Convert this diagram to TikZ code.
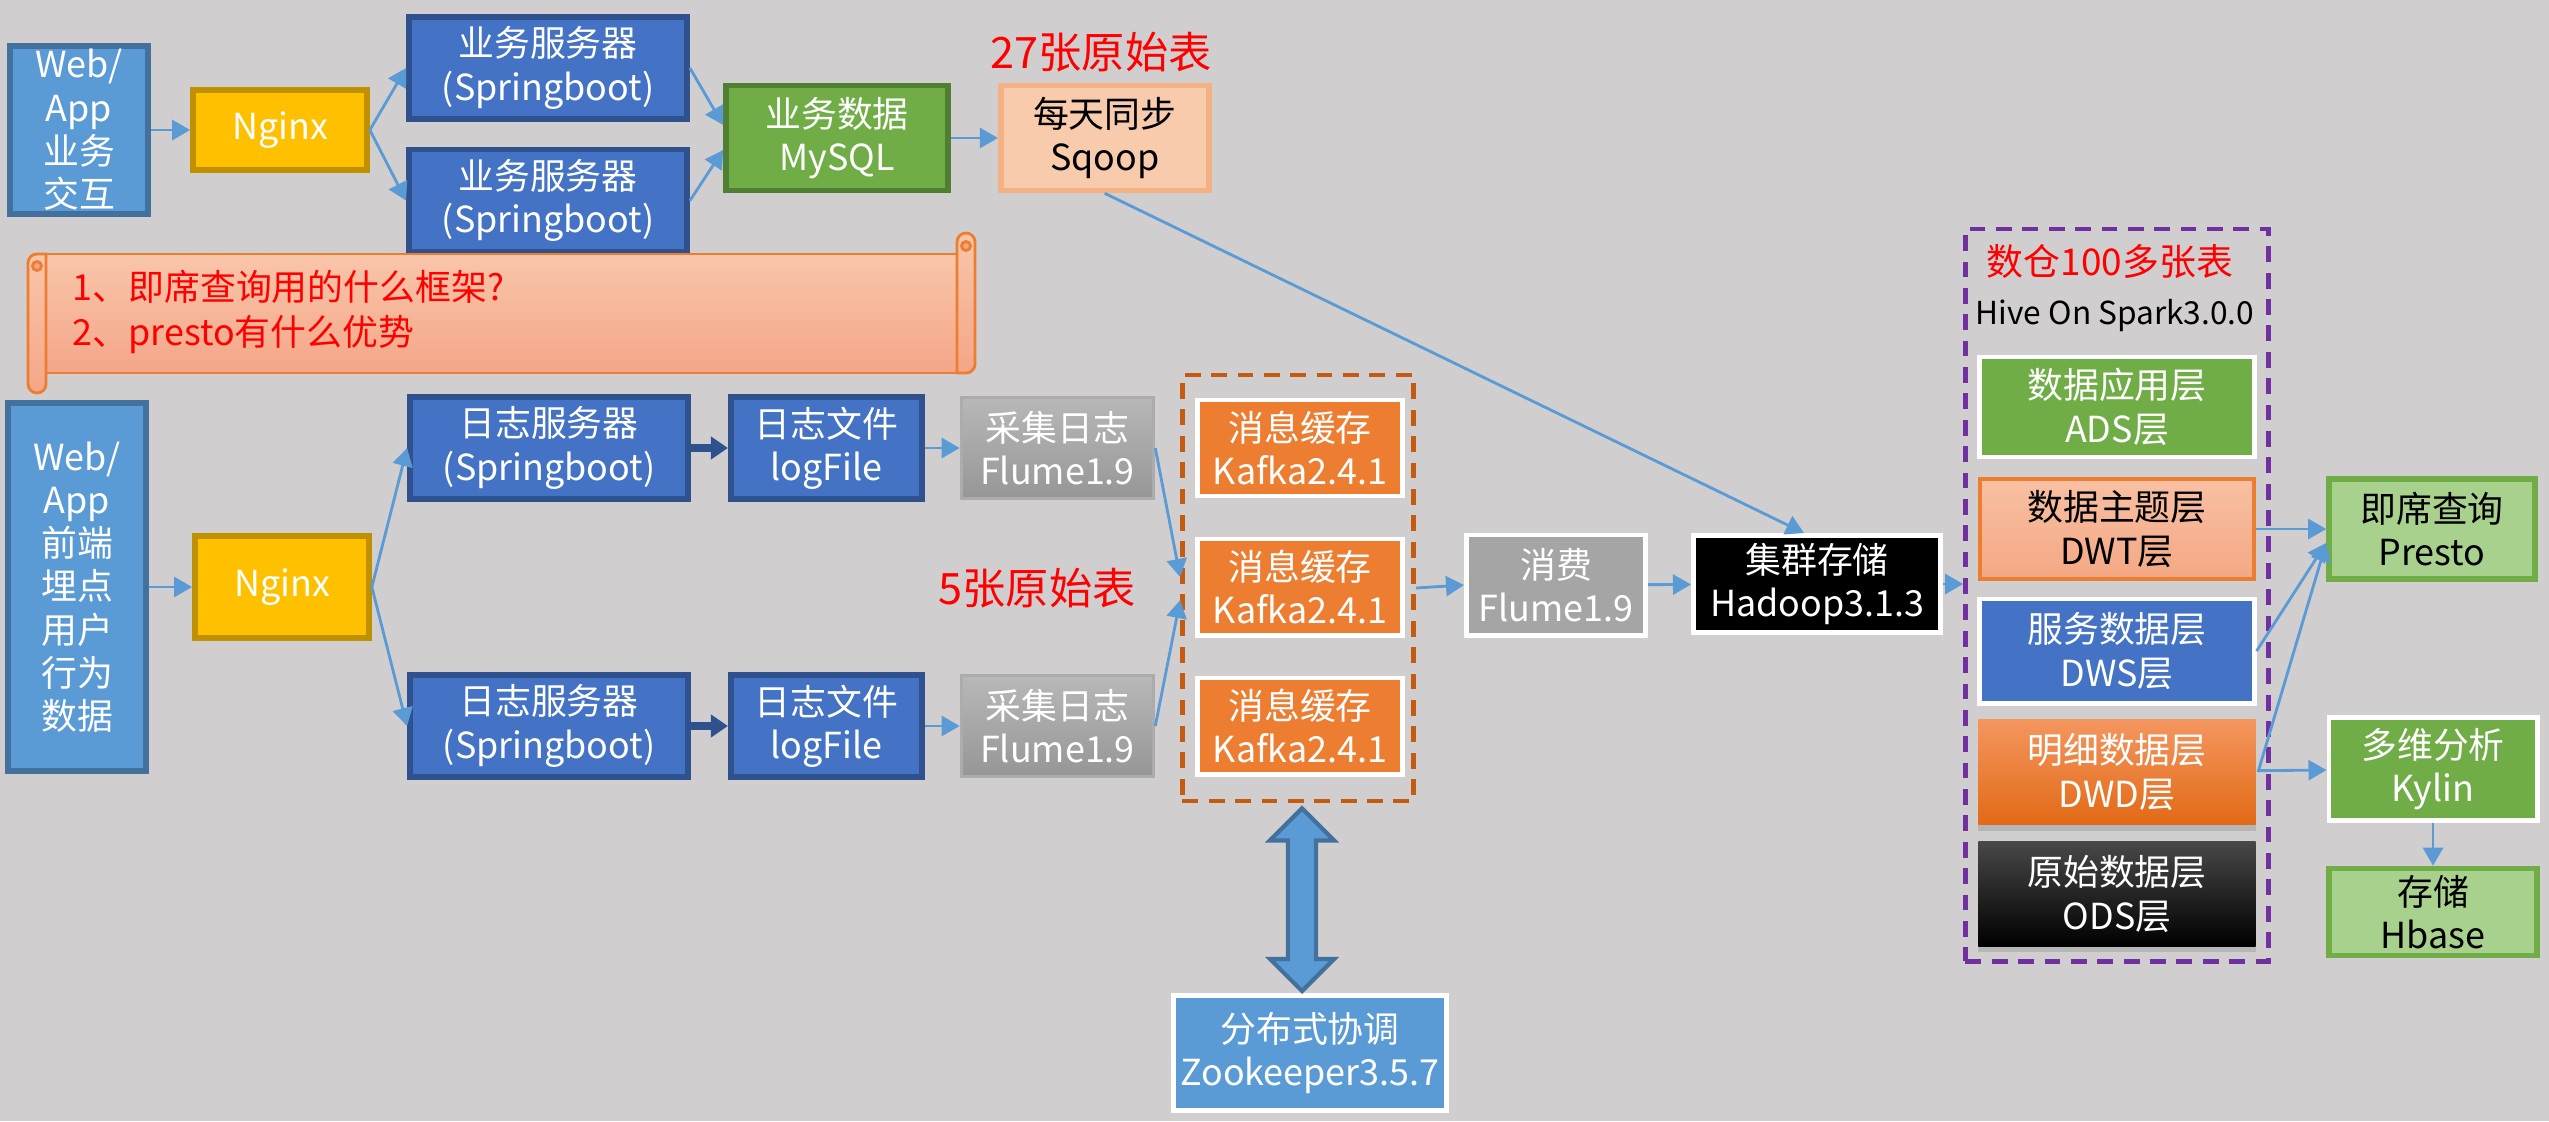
\documentclass[tikz,border=0pt]{standalone}
\usepackage{fontspec}
\setmainfont{Noto Sans CJK SC}
\usepackage{tikz}
\usetikzlibrary{positioning, arrows.meta, calc, shadows}
\definecolor{bgGray}{RGB}{208, 206, 206}
\definecolor{lightBlue}{RGB}{91, 155, 213}
\definecolor{lightBlueDark}{RGB}{65, 113, 156}
\definecolor{nginxYellow}{RGB}{255, 192, 0}
\definecolor{nginxDark}{RGB}{191, 144, 0}
\definecolor{srvBlue}{RGB}{68, 114, 196}
\definecolor{srvDark}{RGB}{47, 82, 143}
\definecolor{dataGreen}{RGB}{112, 173, 71}
\definecolor{dataGreenDark}{RGB}{80, 126, 50}
\definecolor{sqoopFill}{RGB}{248, 203, 173}
\definecolor{sqoopLine}{RGB}{244, 177, 131}
\definecolor{flumeTop}{RGB}{184, 184, 184}
\definecolor{flumeBottom}{RGB}{150, 150, 150}
\definecolor{flumeLine}{RGB}{172, 172, 172}
\definecolor{kafkaOrange}{RGB}{237, 125, 49}
\definecolor{kafkaDash}{RGB}{197, 90, 17}
\definecolor{consumeGray}{RGB}{165, 165, 165}
\definecolor{dwPurple}{RGB}{112, 48, 160}
\definecolor{dwtTop}{RGB}{248, 192, 163}
\definecolor{dwtBottom}{RGB}{244, 168, 132}
\definecolor{dwdTop}{RGB}{244, 150, 95}
\definecolor{dwdBottom}{RGB}{226, 106, 22}
\definecolor{odsTop}{RGB}{72, 72, 72}
\definecolor{paleGreen}{RGB}{169, 209, 142}
\definecolor{scrollTop}{RGB}{249, 198, 170}
\definecolor{scrollBottom}{RGB}{244, 166, 136}

\begin{document}
\begin{tikzpicture}[
    x=0.01cm, y=-0.01cm,
    box/.style={
        rectangle,
        inner sep=0pt,
        align=center,
        text=white,
        font=\fontsize{10.2}{12.3}\selectfont
    },
    webbox/.style={box, fill=lightBlue, draw=lightBlueDark, line width=1.6pt, minimum width=1.38cm},
    nginxbox/.style={box, fill=nginxYellow, draw=nginxDark, line width=1.6pt, minimum width=1.74cm},
    server/.style={box, fill=srvBlue, draw=srvDark, line width=1.6pt, minimum width=2.78cm, minimum height=1.02cm},
    filebox/.style={server, minimum width=1.91cm},
    mysqlbox/.style={box, fill=dataGreen, draw=dataGreenDark, line width=1.6pt, minimum width=2.22cm, minimum height=1.05cm},
    sqoopbox/.style={box, fill=sqoopFill, draw=sqoopLine, line width=1.6pt, text=black, minimum width=2.08cm, minimum height=1.05cm},
    flumebox/.style={box, top color=flumeTop, bottom color=flumeBottom, draw=flumeLine, line width=1pt, minimum width=1.92cm, minimum height=1.01cm},
    whitebox/.style={box, draw=white, line width=1.4pt},
    kafka/.style={whitebox, fill=kafkaOrange, minimum width=2.04cm, minimum height=0.96cm},
    layer/.style={whitebox, minimum width=2.74cm, minimum height=1.0cm},
    resultbox/.style={box, fill=paleGreen, draw=dataGreen, line width=1.6pt, text=black, minimum width=2.06cm},
    redlabel/.style={inner sep=0pt, text=red, font=\fontsize{12.3}{14}\selectfont},
    notetext/.style={inner sep=0pt, align=left, text=red, font=\fontsize{10.2}{12.8}\selectfont},
    scroll/.style={top color=scrollTop, bottom color=scrollBottom, draw=kafkaOrange, line width=0.8pt},
    link/.style={-{Triangle[length=1.8mm, width=2mm]}, draw=lightBlue, line width=0.8pt},
    boldlink/.style={-{Triangle[length=1.7mm, width=2.2mm]}, draw=srvDark, line width=2pt},
    zkarrow/.style={fill=lightBlue, draw=lightBlueDark, line width=1.2pt, line join=miter}
]

\useasboundingbox (0,0) rectangle (2549,1121);
\fill[bgGray] (0,0) rectangle (2549,1121);

% business data
\node[webbox, minimum height=1.68cm] (webA) at (79,130) {Web/\\App\\业务\\交互};
\node[nginxbox, minimum height=0.8cm] (ngxA) at (280,130) {Nginx};
\node[server] (srvA1) at (548,68) {业务服务器\\(Springboot)};
\node[server, below=0.25cm of srvA1] (srvA2) {业务服务器\\(Springboot)};
\node[mysqlbox] (mysql) at (837,138) {业务数据\\MySQL};
\node[sqoopbox, right=0.47cm of mysql] (sqoop) {每天同步\\Sqoop};
\node[redlabel] (tables27) at (1101,52) {27张原始表};

% note scroll
\draw[scroll] (37,254) rectangle (966,373);
\draw[scroll] (957,373) -- (957,242) arc[start angle=180, end angle=0, radius=0.09cm] -- (975,364) arc[start angle=0, end angle=-90, radius=0.09cm] -- cycle;
\draw[scroll] (46,254) -- (37,254) arc[start angle=90, end angle=180, radius=0.09cm] -- (28,384) arc[start angle=180, end angle=360, radius=0.09cm] -- cycle;
\draw[draw=kafkaOrange, fill=scrollBottom, line width=0.8pt] (966,246) circle[radius=0.045cm];
\draw[draw=kafkaOrange, fill=scrollBottom, line width=0.8pt] (37,266) circle[radius=0.045cm];
\node[notetext, anchor=west] (note) at (72,312) {1、即席查询用的什么框架?\\2、presto有什么优势};

% log data
\node[webbox, minimum height=3.68cm] (webB) at (77,587) {Web/\\App\\前端\\埋点\\用户\\行为\\数据};
\node[nginxbox, minimum height=1.02cm] (ngxB) at (282,587) {Nginx};
\node[server] (logA) at (549,448) {日志服务器\\(Springboot)};
\node[server] (logB) at (549,726) {日志服务器\\(Springboot)};
\node[filebox, right=0.37cm of logA] (fileA) {日志文件\\logFile};
\node[filebox, right=0.37cm of logB] (fileB) {日志文件\\logFile};
\node[flumebox, right=0.35cm of fileA] (flumeA) {采集日志\\Flume1.9};
\node[flumebox, right=0.35cm of fileB] (flumeB) {采集日志\\Flume1.9};
\node[redlabel] (tables5) at (1037,588) {5张原始表};

% kafka
\node[draw=kafkaDash, line width=1.3pt, dash pattern=on 4.5pt off 3pt, minimum width=2.31cm, minimum height=4.26cm] (kgrp) at (1298,588) {};
\node[kafka] (kafkaA) at (1300,448) {消息缓存\\Kafka2.4.1};
\node[kafka] (kafkaB) at (1300,587) {消息缓存\\Kafka2.4.1};
\node[kafka] (kafkaC) at (1300,726) {消息缓存\\Kafka2.4.1};
\node[whitebox, fill=lightBlue, minimum width=2.72cm, minimum height=1.15cm] (zookeeper) at (1310,1053) {分布式协调\\Zookeeper3.5.7};

\node[whitebox, fill=consumeGray, minimum width=1.79cm, minimum height=1.0cm] (consume) at (1556,585) {消费\\Flume1.9};
\node[whitebox, fill=black, minimum width=2.47cm, minimum height=0.97cm] (hadoop) at (1817,584) {集群存储\\Hadoop3.1.3};

% warehouse layers
\node[draw=dwPurple, line width=1.3pt, dash pattern=on 4.5pt off 3pt, minimum width=3.03cm, minimum height=7.32cm] (dwgrp) at (2117,595) {};
\node[redlabel, font=\fontsize{10.5}{12}\selectfont] (dwTitle) at (2110,262) {数仓100多张表};
\node[inner sep=0pt, font=\fontsize{9}{11}\selectfont] (hive) at (2115,316) {Hive On Spark3.0.0};
\node[layer, fill=dataGreen] (ads) at (2117,407) {数据应用层\\ADS层};
\node[layer, top color=dwtTop, bottom color=dwtBottom, draw=kafkaOrange, line width=1.2pt, text=black] (dwt) at (2117,529) {数据主题层\\DWT层};
\node[layer, fill=srvBlue, minimum height=1.04cm] (dws) at (2117,651) {服务数据层\\DWS层};
\node[layer, top color=dwdTop, bottom color=dwdBottom, draw=none, minimum width=2.77cm, minimum height=1.05cm,
      drop shadow={opacity=0.3, shadow xshift=0pt, shadow yshift=-0.06cm}] (dwd) at (2117,772) {明细数据层\\DWD层};
\node[layer, top color=odsTop, middle color=black, bottom color=black, draw=none, minimum width=2.77cm, minimum height=1.04cm,
      drop shadow={opacity=0.3, shadow xshift=0pt, shadow yshift=-0.06cm}] (ods) at (2117,894) {原始数据层\\ODS层};

\node[resultbox, minimum height=1.0cm] (presto) at (2432,529) {即席查询\\Presto};
\node[whitebox, fill=dataGreen, minimum width=2.08cm, minimum height=1.03cm] (kylin) at (2433,769) {多维分析\\Kylin};
\node[resultbox, minimum width=2.08cm, minimum height=0.87cm] (hbase) at (2433,912) {存储\\Hbase};

% connectors
\draw[link] (webA) -- (ngxA);
\draw[link] (ngxA.east) -- (srvA1.west);
\draw[link] (ngxA.east) -- (srvA2.west);
\draw[link] (srvA1.east) -- ($(mysql.west)+(0,-13)$);
\draw[link] (srvA2.east) -- ($(mysql.west)+(0,12)$);
\draw[link] (mysql) -- (sqoop);
\draw[link] (sqoop.south) -- ($(hadoop.north)+(-13,0)$);

\draw[link] (webB) -- (ngxB);
\draw[link] (ngxB.east) -- (logA.west);
\draw[link] (ngxB.east) -- (logB.west);
\draw[boldlink] (logA) -- (fileA);
\draw[boldlink] (logB) -- (fileB);
\draw[link] (fileA) -- (flumeA);
\draw[link] (fileB) -- (flumeB);
\draw[link] (flumeA.east) -- ($(kgrp.west)+(0,-11)$);
\draw[link] (flumeB.east) -- ($(kgrp.west)+(0,12)$);
\draw[link] (kgrp.east) -- (consume.west);
\draw[link] (consume) -- (hadoop);
\draw[link] (hadoop.east) -- (hadoop.east -| dwgrp.west);

\draw[link] (dwt) -- (presto);
\draw[link] (dws.east) -- ($(presto.west)+(0,14)$);
\draw[link] (dwd.east) -- ($(presto.west)+(0,14)$);
\draw[link] (dwd) -- (kylin);
\draw[link] (kylin) -- (hbase);

% kafka <-> zookeeper
\path ($(kgrp.south)+(4,5)$) coordinate (zTop) ($(zookeeper.north)+(-8,-2)$) coordinate (zBot);
\draw[zkarrow] (zTop) -- ($(zTop)+(32,32)$) -- ($(zTop)+(14,32)$) -- ($(zBot)+(14,-32)$) -- ($(zBot)+(32,-32)$) -- (zBot)
    -- ($(zBot)+(-32,-32)$) -- ($(zBot)+(-14,-32)$) -- ($(zTop)+(-14,32)$) -- ($(zTop)+(-32,32)$) -- cycle;

\end{tikzpicture}
\end{document}
